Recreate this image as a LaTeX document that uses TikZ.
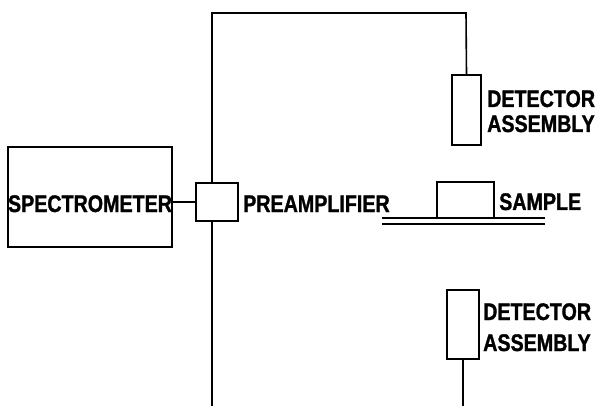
\documentclass[tikz,border=0pt]{standalone}
\usepackage{fontspec}
\newfontfamily\lblfont[FakeStretch=0.82,FakeBold=1.2]{Liberation Sans}
\begin{document}
\begin{tikzpicture}[x=1pt,y=-1pt,
  box/.style={draw,line width=1.6pt,inner sep=0pt,rectangle},
  wire/.style={line width=1.6pt},
  base/.style={line width=1.4pt},
  lbl/.style={inner sep=0pt,anchor=base west,font=\lblfont\bfseries\fontsize{24}{28}\selectfont}]
\useasboundingbox (0,0) rectangle (602,406);
% boxes
\node[box,minimum width=164pt,minimum height=100pt] (spec) at (90,197) {};
\node[lbl,anchor=base] (spectxt) at (90,212) {SPECTROMETER};
\node[box,minimum width=42pt,minimum height=38pt] (preamp) at (217,202) {};
\node[box,minimum width=29pt,minimum height=70pt] (det1) at (466.5,110) {};
\node[box,minimum width=32pt,minimum height=69pt] (det2) at (463,324.5) {};
\node[box,minimum width=57pt,minimum height=36pt] (sample) at (465.5,200) {};
% labels
\node[lbl] (pretxt) at (243,212) {PREAMPLIFIER};
\node[lbl] (d1a) at (487,107) {DETECTOR};
\node[lbl] (d1b) at (487,132) {ASSEMBLY};
\node[lbl] (samtxt) at (499,210) {SAMPLE};
\node[lbl] (d2a) at (483,320) {DETECTOR};
\node[lbl] (d2b) at (483,351) {ASSEMBLY};
% coordinates
\coordinate (topr) at (466,13);
\coordinate (bot) at (0,406);
\coordinate (dl1) at (382,218);
\coordinate (dr1) at (545,218);
\coordinate (dl2) at (382,224);
\coordinate (dr2) at (545,224);
% connectors
\draw[wire] (spec.east |- preamp.west) -- (preamp.west);
\draw[wire] ([xshift=-5pt]preamp.north) |- (topr) -- (det1.north);
\draw[wire] ([xshift=-5pt]preamp.south) -- ([xshift=-5pt]preamp.south |- bot);
\draw[wire] (det2.south) -- (det2.south |- bot);
\draw[base] (dl1) -- (dr1);
\draw[base] (dl2) -- (dr2);
\end{tikzpicture}
\end{document}
